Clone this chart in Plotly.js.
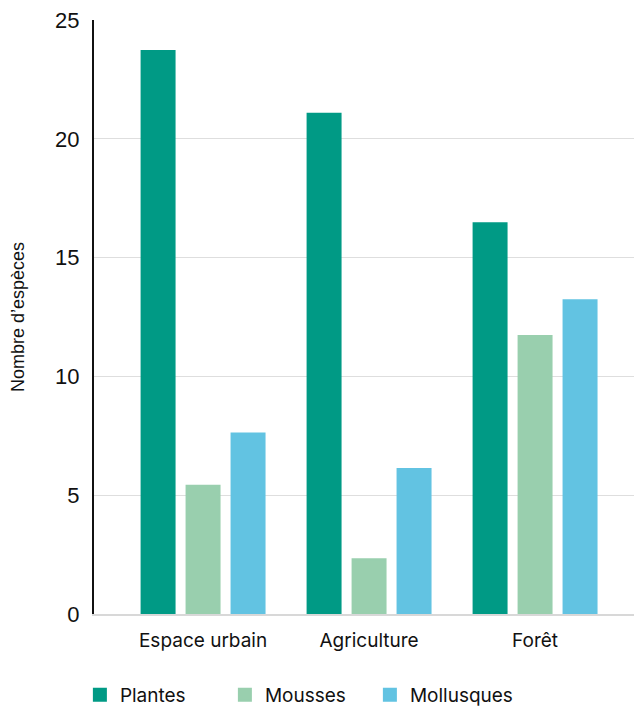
<!DOCTYPE html>
<html><head><meta charset="utf-8">
<script src="https://cdn.plot.ly/plotly-3.0.1.min.js"></script>
<style>html,body{margin:0;padding:0;background:#fff}#c{width:634px;height:706px}</style>
</head><body><div id="c"></div>
<script>
const categories = ["Espace urbain", "Agriculture", "Forêt"];
const plantes = [23.7, 21.05, 16.45];
const mousses = [5.4, 2.3, 11.7];
const mollusques = [7.6, 6.1, 13.2];
const seriesNames = ["Plantes", "Mousses", "Mollusques"];
const colors = ["#009a85", "#99cfae", "#62c3e2"];
const yTicks = [0, 5, 10, 15, 20, 25];

const data = [plantes, mousses, mollusques].map((v, i) => ({
  type: "bar", x: categories, y: v, name: seriesNames[i],
  marker: {color: colors[i], line: {color: colors[i], width: 2}}, hoverinfo: "none"
}));

const layout = {
  width: 634, height: 706,
  margin: {l: 94, r: 0, t: 20, b: 92},
  paper_bgcolor: "#fff", plot_bgcolor: "#fff",
  barmode: "group", bargap: 0.187, bargroupgap: 0.267,
  font: {family: "Liberation Sans, Arial, sans-serif", color: "#111"},
  xaxis: {
    range: [-0.657, 2.596], showgrid: false, zeroline: false,
    showline: true, linecolor: "#d8d8d8", linewidth: 2,
    ticks: "", tickfont: {family: "Inter, sans-serif", size: 19, color: "#111"},
    ticklabelstandoff: 8
  },
  yaxis: {
    range: [0, 25], tickvals: yTicks, ticktext: yTicks.map(String),
    showgrid: true, gridcolor: "#dedede", gridwidth: 1,
    zeroline: false, showline: true, linecolor: "#111", linewidth: 2,
    ticks: "", tickfont: {size: 22, color: "#111"}, ticklabelstandoff: 8,
    title: {text: "Nombre d’espèces", font: {size: 18, color: "#111"}, standoff: 26}
  },
  showlegend: true,
  legend: {
    orientation: "h", xref: "container", x: 0.126, xanchor: "left",
    yref: "container", y: 0.0156, yanchor: "middle",
    font: {family: "Inter, sans-serif", size: 19, color: "#111"},
    entrywidth: 100, traceorder: "normal"
  }
};
Plotly.newPlot("c", data, layout, {staticPlot: true});
</script></body></html>
